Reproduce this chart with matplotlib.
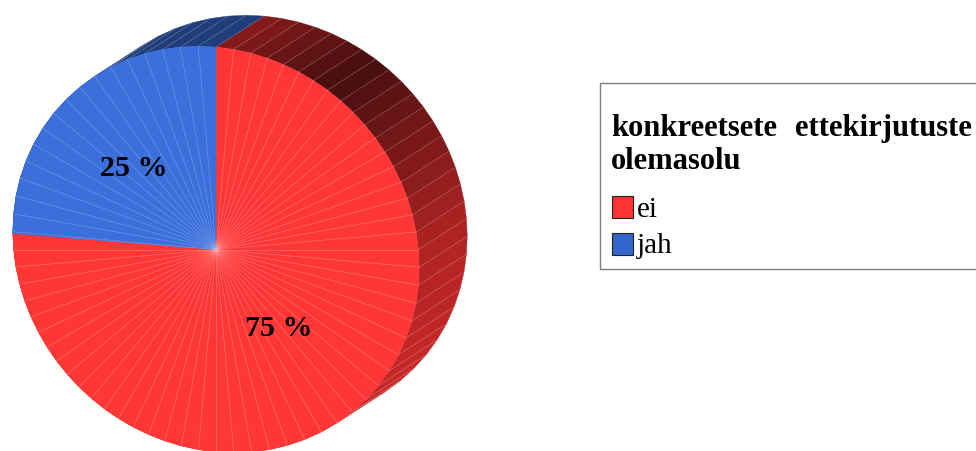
import numpy as np
import matplotlib
matplotlib.use("Agg")
import matplotlib.pyplot as plt
from matplotlib.patches import Polygon, Rectangle

# data
categories = ["ei", "jah"]
drawn_shares = [76.25, 23.75]
value_labels = ["75 %", "25 %"]
legend_title_words = ["konkreetsete", "ettekirjutuste", "olemasolu"]

# style
SERIF = "Liberation Serif"
face_cols = {"ei": "#ff3636", "jah": "#3a6fdc"}
swatch_cols = {"ei": "#ff3333", "jah": "#3366cc"}
CX, CY = 216, 249.5
A, B, PHI0 = 212.0, 194.0, np.deg2rad(-45)
DX, DY = 48, -31
STEP = 5
shade_angles = [-90, -60, -30, 0, 30, 55, 85, 125]
shade_levels = [0.82, 0.80, 0.76, 0.68, 0.46, 0.28, 0.50, 0.78]

fig = plt.figure(figsize=(9.76, 4.51), dpi=100)
ax = fig.add_axes([0, 0, 1, 1])
ax.set_xlim(0, 976)
ax.set_ylim(451, 0)
ax.set_axis_off()


def rim(deg, dx=0.0, dy=0.0):
    p = np.deg2rad(deg)
    r = 1 / np.sqrt(np.cos(p - PHI0) ** 2 / A ** 2 + np.sin(p - PHI0) ** 2 / B ** 2)
    return CX + dx + r * np.cos(p), CY + dy - r * np.sin(p)


def arc_angles(start, end):
    inner = np.arange(np.ceil(start / STEP) * STEP, end, STEP)
    pts = np.concatenate([[start], inner[inner > start], [end]])
    return pts


# slice angles (clockwise from 12 o'clock, "ei" first)
fracs = np.array(drawn_shares) / sum(drawn_shares)
ends = 90 - np.cumsum(fracs) * 360
starts = np.concatenate([[90], ends[:-1]])
spans = {c: (e, s) for c, s, e in zip(categories, starts, ends)}

# extruded side
for cat, (lo, hi) in spans.items():
    rgb = np.array(matplotlib.colors.to_rgb(swatch_cols[cat]))
    ang = arc_angles(lo, hi)
    for a0, a1 in zip(ang[:-1], ang[1:]):
        mid = ((a0 + a1) / 2 + 180) % 360 - 180
        lvl = np.interp(mid, shade_angles, shade_levels)
        if cat == "jah":
            lvl = 0.60
        col = rgb * lvl
        q = [rim(a0), rim(a1), rim(a1, DX, DY), rim(a0, DX, DY)]
        ax.add_patch(Polygon(q, closed=True, fc=col, ec=col, lw=0.3, zorder=2))
        x0, y0 = rim(a1)
        x1, y1 = rim(a1, DX, DY)
        ax.plot([x0, x1], [y0, y1], color="white", alpha=0.22, lw=0.5, zorder=3)

# top face
for cat, (lo, hi) in spans.items():
    ang = arc_angles(lo, hi)
    col = face_cols[cat]
    pts = [(CX, CY)] + [rim(a) for a in ang]
    ax.add_patch(Polygon(pts, closed=True, fc=col, ec=col, lw=0.3, zorder=4))
    line_col = "#ffb0b0" if cat == "ei" else "#a9c0f0"
    for a in ang[1:-1]:
        x, y = rim(a)
        ax.plot([CX, x], [CY, y], color=line_col, alpha=0.45, lw=0.5, zorder=5)

# value labels
label_pos = {"ei": (279, 336), "jah": (134, 176)}
for cat, lab in zip(categories, value_labels):
    x, y = label_pos[cat]
    ax.text(x, y, lab, family=SERIF, weight="bold", fontsize=21.6,
            color="black", ha="center", va="baseline", zorder=6)

# legend
ax.add_patch(Rectangle((599.5, 82.5), 400, 186, fc="white", ec="#7f7f7f", lw=1.0, zorder=6))
title_kw = dict(family=SERIF, weight="bold", fontsize=22, color="black", zorder=7, va="baseline")
ax.text(611, 136, legend_title_words[0], ha="left", **title_kw)
ax.text(972, 136, legend_title_words[1], ha="right", **title_kw)
ax.text(611, 169, legend_title_words[2], ha="left", **title_kw)
for cat, ytop, base in zip(categories, [196, 233], [217, 253]):
    ax.add_patch(Rectangle((611.5, ytop), 21.5, 21.5, fc=swatch_cols[cat], ec="#222222", lw=0.8, zorder=7))
    ax.text(637, base, cat, family=SERIF, fontsize=21, color="black", ha="left", va="baseline", zorder=7)

fig.savefig("out.png", dpi=100)
